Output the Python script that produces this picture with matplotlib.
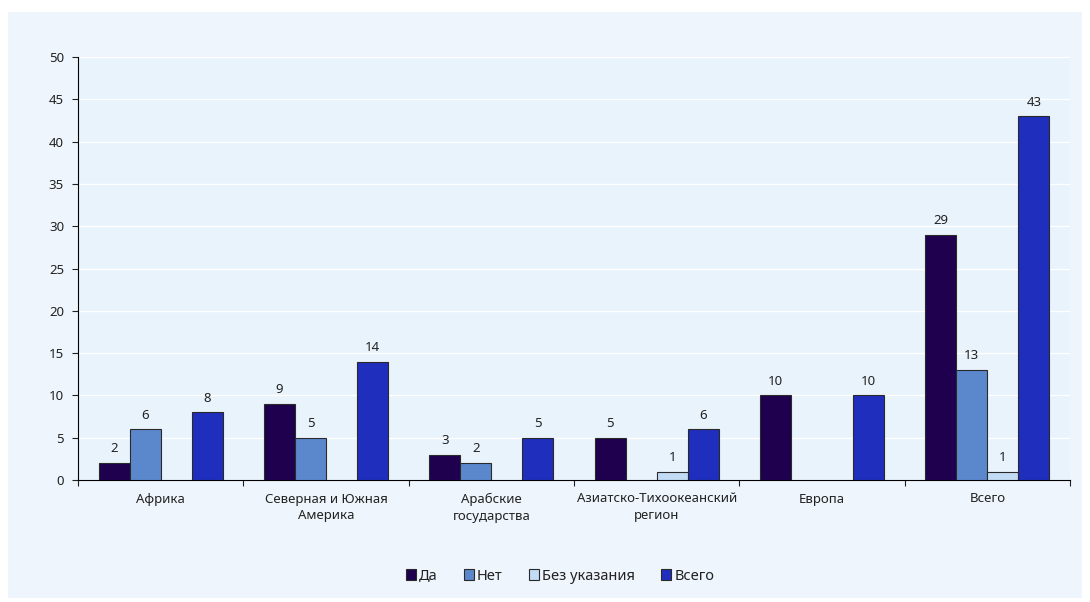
import numpy as np
import matplotlib
matplotlib.use('Agg')
import matplotlib.pyplot as plt
from matplotlib.patches import Rectangle

plt.rcParams['font.family'] = ['Noto Sans', 'DejaVu Sans']
plt.rcParams['font.size'] = 9.5

# data
regions = ['Африка', 'Северная и Южная\nАмерика', 'Арабские\nгосударства',
           'Азиатско-Тихоокеанский\nрегион', 'Европа', 'Всего']
series_names = ['Да', 'Нет', 'Без указания', 'Всего']
yes_vals = [2, 9, 3, 5, 10, 29]
no_vals = [6, 5, 2, 0, 0, 13]
unspec_vals = [0, 0, 0, 1, 0, 1]
total_vals = [8, 14, 5, 6, 10, 43]
colors = ['#1e004f', '#5b88cc', '#c2dcf6', '#1f2ebd']

fig = plt.figure(figsize=(10.9, 6.02), dpi=100)
fig.patch.set_facecolor('white')
bg = Rectangle((8/1090, 4/602), 1074/1090, 586/602, transform=fig.transFigure,
               facecolor='#eef5fc', edgecolor='none', zorder=-10)
fig.add_artist(bg)

ax = fig.add_axes([78/1090, 1-480/602, 992/1090, 423/602])
ax.set_facecolor('#e9f3fc')

x = np.arange(len(regions))
w = 0.188
all_vals = [yes_vals, no_vals, unspec_vals, total_vals]
for i, vals in enumerate(all_vals):
    vals = np.array(vals, dtype=float)
    pos = x + (i - 1.5) * w
    shown = vals > 0
    ax.bar(pos[shown], vals[shown], w, color=colors[i], edgecolor='#2a2a2a',
           linewidth=0.8, label=series_names[i], zorder=3)
    for p, v in zip(pos[shown], vals[shown]):
        ax.text(p, v + 0.9, '%d' % v, ha='center', va='bottom', fontsize=9.5, color='#222222')

ax.set_xlim(-0.5, len(regions) - 0.5)
ax.set_ylim(0, 50)
ax.set_yticks(np.arange(0, 51, 5))
ax.grid(axis='y', color='white', linewidth=1, zorder=0)
ax.set_axisbelow(True)

ax.set_xticks(np.arange(-0.5, len(regions)), minor=False)
ax.set_xticklabels([])
ax.set_xticks(x, minor=True)
ax.set_xticklabels(regions, minor=True, fontsize=9.5, color='#222222', linespacing=1.4)
ax.tick_params(axis='x', which='minor', length=0, pad=9)
ax.tick_params(axis='x', which='major', length=4, direction='out', color='#222222')
ax.tick_params(axis='y', length=4, pad=6, direction='out', color='#222222', labelcolor='#222222',
               labelsize=9.5)

for s in ['top', 'right']:
    ax.spines[s].set_visible(False)
ax.spines['left'].set_color('black')
ax.spines['bottom'].set_color('black')

leg = fig.legend(loc='center', bbox_to_anchor=(560/1090, 1-576/602), ncol=4, frameon=False,
                 fontsize=10.5, handlelength=0.7, handleheight=0.7, handletextpad=0.2,
                 columnspacing=1.8)
for t in leg.get_texts():
    t.set_color('#222222')

fig.savefig('out.png', dpi=100, facecolor=fig.get_facecolor())
